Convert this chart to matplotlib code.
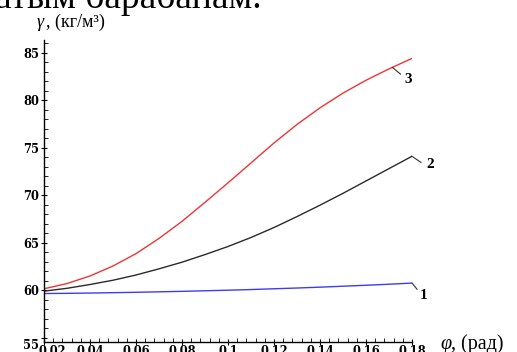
import matplotlib
matplotlib.use("Agg")
import matplotlib.pyplot as plt
import matplotlib.transforms as mtransforms
from matplotlib.ticker import MultipleLocator, FixedLocator

# density curves gamma(phi) for three cases
phi = [0.02, 0.03, 0.04, 0.05, 0.06, 0.07, 0.08, 0.09, 0.10,
       0.11, 0.12, 0.13, 0.14, 0.15, 0.16, 0.17, 0.18]
gamma_1 = [59.65, 59.67, 59.70, 59.74, 59.78, 59.83, 59.88, 59.94, 60.00,
           60.07, 60.15, 60.23, 60.32, 60.42, 60.52, 60.63, 60.75]
gamma_2 = [59.90, 60.20, 60.60, 61.05, 61.60, 62.25, 62.95, 63.75, 64.60,
           65.55, 66.60, 67.75, 68.95, 70.20, 71.50, 72.80, 74.10]
gamma_3 = [60.15, 60.70, 61.50, 62.55, 63.85, 65.45, 67.25, 69.25, 71.30,
           73.40, 75.50, 77.45, 79.20, 80.75, 82.10, 83.30, 84.40]

x_ticks = [0.02, 0.04, 0.06, 0.08, 0.1, 0.12, 0.14, 0.16, 0.18]
x_tick_labels = ["0.02", "0.04", "0.06", "0.08", "0.1", "0.12", "0.14", "0.16", "0.18"]
y_ticks = [55, 60, 65, 70, 75, 80, 85]

W, H = 517, 352
fig = plt.figure(figsize=(W / 100, H / 100), dpi=100)
ax = fig.add_axes([44 / W, 1 - 341.5 / H, (412 - 44) / W, (341.5 - 40) / H])

ax.plot(phi, gamma_1, color="#3c3cf0", lw=1.0)
ax.plot(phi, gamma_2, color="#2a2a2a", lw=1.0)
ax.plot(phi, gamma_3, color="#f03434", lw=1.0)

ax.set_xlim(0.02, 0.18)
ax.set_ylim(54.6, 86.34)

for s in ("top", "right"):
    ax.spines[s].set_visible(False)
for s in ("left", "bottom"):
    ax.spines[s].set_linewidth(1.0)

ax.xaxis.set_major_locator(FixedLocator(x_ticks))
ax.set_xticklabels(x_tick_labels)
ax.xaxis.set_minor_locator(MultipleLocator(0.004))
ax.yaxis.set_major_locator(FixedLocator(y_ticks))
ax.yaxis.set_minor_locator(MultipleLocator(1))

for lab in ax.get_xticklabels() + ax.get_yticklabels():
    lab.set_fontfamily("DejaVu Serif")
    lab.set_fontweight("bold")
    lab.set_fontsize(8.3)

ax.tick_params(axis="both", which="major", direction="inout", length=5, width=0.8, pad=1)
ax.tick_params(axis="both", which="minor", direction="in", length=3, width=0.6)
ax.tick_params(axis="x", pad=0)

# labels at the origin are pushed off the axes corner
first_x = ax.get_xticklabels()[0]
first_x.set_transform(first_x.get_transform() + mtransforms.ScaledTranslation(8 / 100, 0, fig.dpi_scale_trans))
first_y = ax.get_yticklabels()[0]
first_y.set_transform(first_y.get_transform() + mtransforms.ScaledTranslation(0, -6 / 100, fig.dpi_scale_trans))

# curve numbers with short leader lines: (x0, y0) on the curve, leader end, label position
lab_font = dict(family="Liberation Serif", weight="bold", size=11)
curve_marks = [
    ("1", phi[-1], gamma_1[-1], (0.1822, 60.10), (0.1852, 59.45)),
    ("2", phi[-1], gamma_2[-1], (0.1839, 73.45), (0.1878, 73.20)),
    ("3", 0.1715, 83.45, (0.1750, 82.75), (0.1782, 82.15)),
]
for txt, x0, y0, lead, pos in curve_marks:
    ax.plot([x0, lead[0]], [y0, lead[1]], color="#333333", lw=0.8, clip_on=False)
    ax.text(pos[0], pos[1], txt, ha="center", va="center", clip_on=False, **lab_font)

# axis titles
fig.text(37 / W, 1 - 27 / H, "γ", family="Liberation Serif", style="italic", size=13, va="baseline")
fig.text(46 / W, 1 - 27 / H, ", (кг/м³)", family="Liberation Serif", size=13, va="baseline")
fig.text(440 / W, 1 - 349 / H, "φ", family="Liberation Serif", style="italic", size=14.5, va="baseline")
fig.text(451 / W, 1 - 349 / H, ", (рад)", family="Liberation Serif", size=14.5, va="baseline")

# tail of the preceding text line
fig.text(-5 / W, 1 - 8 / H, "атым барабанам.", family="Liberation Serif", size=27, va="baseline")

fig.savefig("out.png", dpi=100)
